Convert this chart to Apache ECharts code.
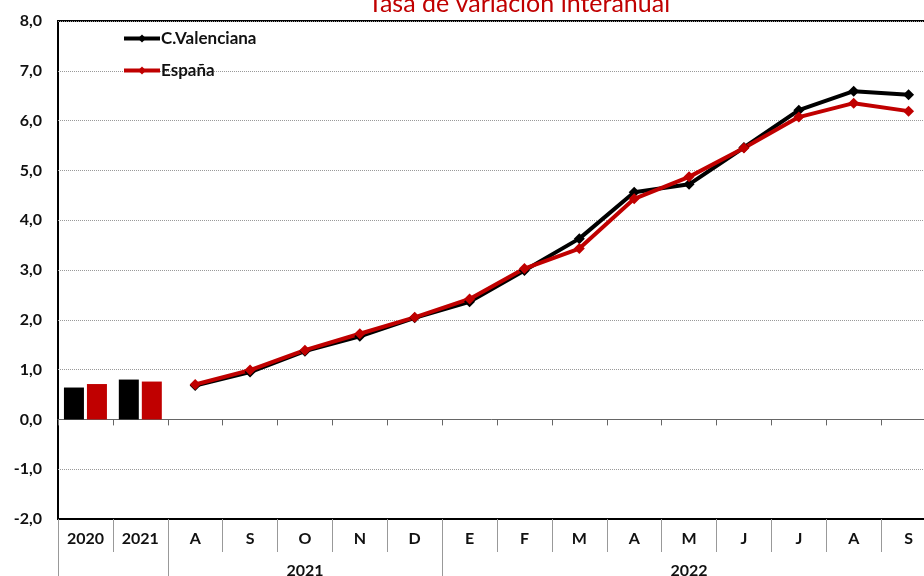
<!DOCTYPE html>
<html>
<head>
<meta charset="utf-8">
<script src="https://cdn.jsdelivr.net/npm/echarts@6/dist/echarts.min.js"></script>
<style>
  html, body { margin: 0; padding: 0; background: #fff; }
  #chart { width: 924px; height: 576px; }
</style>
</head>
<body>
<div id="chart"></div>
<script>
// categorias: 2 medias anuales + meses (ago 2021 - sep 2022)
const categories = ['2020', '2021', 'A', 'S', 'O', 'N', 'D', 'E', 'F', 'M', 'A', 'M', 'J', 'J', 'A', 'S'];
const yearLabels = ['', '', '', '', '2021', '', '', '', '', '', '', '2022', '', '', '', ''];
const yearSeparators = [0, 2, 7];

const valenciaAnual = [0.64, 0.80, null, null, null, null, null, null, null, null, null, null, null, null, null, null];
const espanaAnual = [0.71, 0.76, null, null, null, null, null, null, null, null, null, null, null, null, null, null];
const valenciaMes = [null, null, 0.68, 0.95, 1.37, 1.67, 2.04, 2.36, 2.99, 3.63, 4.56, 4.72, 5.46, 6.21, 6.59, 6.52];
const espanaMes = [null, null, 0.70, 0.99, 1.39, 1.72, 2.05, 2.42, 3.03, 3.43, 4.43, 4.87, 5.45, 6.07, 6.35, 6.19];

const FONT = 'Lato';
const ROJO = '#c00000';

const chart = echarts.init(document.getElementById('chart'));

chart.setOption({
  animation: false,
  title: {
    text: 'Tasa de variación interanual',
    left: 363,
    top: -14,
    textStyle: { color: ROJO, fontFamily: FONT, fontWeight: 'normal', fontSize: 25 }
  },
  legend: {
    data: ['C.Valenciana', 'España'],
    orient: 'vertical',
    left: 122,
    top: 30,
    padding: 0,
    itemWidth: 36,
    itemHeight: 10,
    itemGap: 15,
    lineStyle: { width: 4 },
    textStyle: { fontFamily: FONT, fontWeight: 'bold', fontSize: 17, color: '#111', padding: [0, 0, 0, -4] }
  },
  grid: {
    left: 58, top: 21, bottom: 57, width: 878,
    outerBoundsMode: 'none',
    show: true, borderColor: '#000', borderWidth: 2
  },
  xAxis: [
    {
      type: 'category',
      data: categories,
      position: 'bottom',
      axisLine: { onZero: false, lineStyle: { color: '#000', width: 2 } },
      axisTick: { show: true, interval: 0, length: 33, lineStyle: { color: '#999' } },
      axisLabel: { interval: 0, margin: 12, fontFamily: FONT, fontWeight: 'bold', fontSize: 16, color: '#111' }
    },
    {
      type: 'category',
      data: categories,
      position: 'bottom',
      axisLine: { onZero: true, lineStyle: { color: '#666', width: 1 } },
      axisTick: { show: true, interval: 0, length: 6, lineStyle: { color: '#666' } },
      axisLabel: { show: false }
    },
    {
      type: 'category',
      data: categories,
      position: 'bottom',
      axisLine: { show: false, onZero: false },
      axisTick: {
        show: true,
        interval: (i) => yearSeparators.indexOf(i) >= 0,
        length: 60,
        lineStyle: { color: '#999' }
      },
      axisLabel: {
        interval: 0,
        margin: 44,
        formatter: (v, i) => yearLabels[i],
        fontFamily: FONT, fontWeight: 'bold', fontSize: 16, color: '#111'
      }
    }
  ],
  yAxis: {
    type: 'value',
    min: -2,
    max: 8,
    interval: 1,
    axisLine: { show: false },
    axisTick: { show: false },
    axisLabel: {
      margin: 16,
      formatter: (v) => v.toFixed(1).replace('.', ','),
      fontFamily: FONT, fontWeight: 'bold', fontSize: 16, color: '#111'
    },
    splitLine: { lineStyle: { type: 'dotted', color: '#999', width: 1 } }
  },
  series: [
    {
      name: 'C.Valenciana anual', type: 'bar', data: valenciaAnual,
      barWidth: 20, barGap: '15%',
      itemStyle: { color: '#000' }
    },
    {
      name: 'España anual', type: 'bar', data: espanaAnual,
      barWidth: 20, barGap: '15%',
      itemStyle: { color: ROJO }
    },
    {
      name: 'C.Valenciana', type: 'line', data: valenciaMes,
      symbol: 'diamond', symbolSize: 11,
      lineStyle: { color: '#000', width: 4 },
      itemStyle: { color: '#000' }
    },
    {
      name: 'España', type: 'line', data: espanaMes,
      symbol: 'diamond', symbolSize: 11,
      lineStyle: { color: ROJO, width: 4 },
      itemStyle: { color: ROJO }
    }
  ]
});
</script>
</body>
</html>
